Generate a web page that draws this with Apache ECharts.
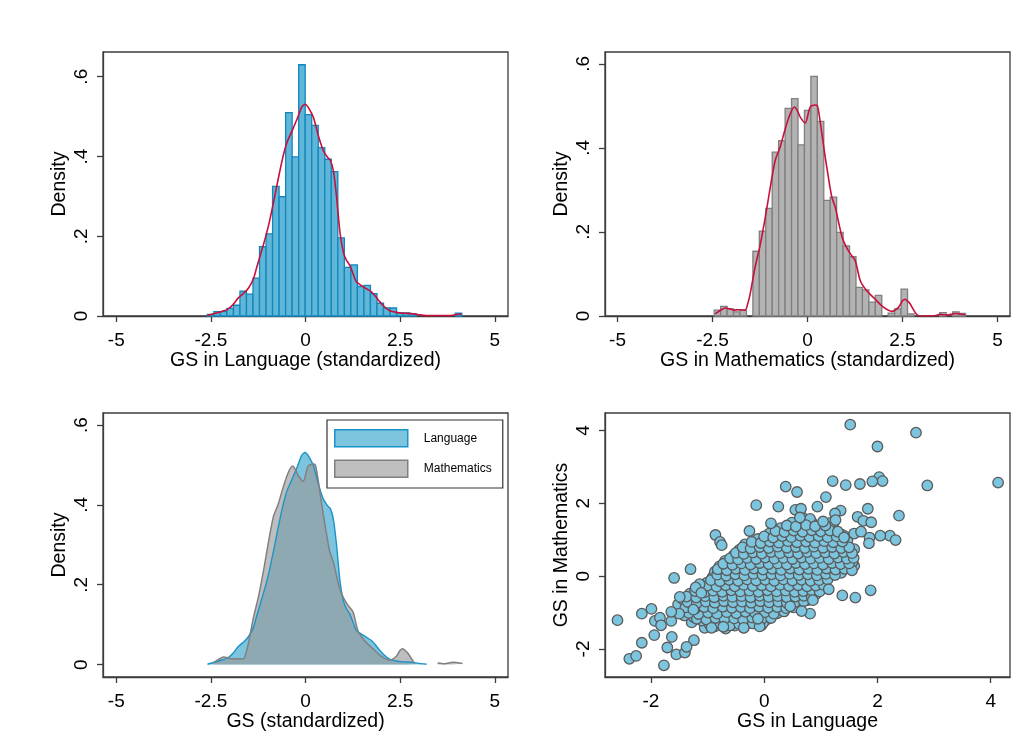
<!DOCTYPE html>
<html><head><meta charset="utf-8">
<script src="https://cdn.jsdelivr.net/npm/echarts@6/dist/echarts.min.js"></script>
<style>html,body{margin:0;padding:0;background:#fff}#c{width:1028px;height:751px}</style>
</head><body><div id="c"></div>
<script>
// ---------- data ----------
const langBinStart = -2.594, langBinWidth = 0.1724;
const langHist = [0.004,0.011,0.011,0.019,0.027,0.062,0.055,0.095,0.174,0.206,0.325,0.299,0.510,0.399,0.630,0.505,0.478,0.422,0.393,0.362,0.196,0.122,0.128,0.074,0.077,0.056,0.032,0.020,0.020,0.008,0.008,0.006,0,0,0,0,0,0,0.007];
const mathBinStart = -2.455, mathBinWidth = 0.1696;
const mathHist = [0.014,0.023,0.017,0.010,0.014,0,0.154,0.202,0.256,0.390,0.417,0.494,0.517,0.407,0.489,0.570,0.463,0.275,0.283,0.199,0.167,0.141,0.068,0.062,0.033,0.049,0,0.007,0.017,0.064,0.005,0,0,0,0,0.008,0,0.010,0.006];
const langKde = [[-2.59,0.001],[-2.4,0.006],[-2.2,0.012],[-2.07,0.016],[-1.92,0.028],[-1.77,0.046],[-1.62,0.058],[-1.5,0.071],[-1.38,0.092],[-1.28,0.125],[-1.17,0.16],[-1.06,0.196],[-0.95,0.238],[-0.845,0.285],[-0.75,0.33],[-0.67,0.367],[-0.58,0.405],[-0.49,0.435],[-0.36,0.463],[-0.23,0.492],[-0.1,0.524],[-0.01,0.531],[0.08,0.522],[0.21,0.498],[0.34,0.452],[0.47,0.415],[0.58,0.398],[0.66,0.39],[0.74,0.362],[0.82,0.3],[0.91,0.21],[1.0,0.16],[1.08,0.14],[1.17,0.127],[1.26,0.105],[1.35,0.085],[1.52,0.074],[1.63,0.067],[1.75,0.06],[1.86,0.048],[1.96,0.036],[2.1,0.022],[2.23,0.013],[2.4,0.009],[2.58,0.007],[2.8,0.006],[3.0,0.003],[3.2,0.001],[3.5,0.001],[3.8,0.001],[3.95,0.003],[4.05,0.005],[4.12,0.004]];
const mathKde = [[-2.43,0.005],[-2.3,0.013],[-2.165,0.019],[-2.05,0.017],[-1.945,0.014],[-1.8,0.015],[-1.64,0.014],[-1.57,0.03],[-1.51,0.052],[-1.38,0.116],[-1.25,0.167],[-1.11,0.235],[-0.98,0.306],[-0.85,0.37],[-0.72,0.402],[-0.587,0.445],[-0.455,0.481],[-0.34,0.497],[-0.26,0.487],[-0.19,0.473],[-0.06,0.459],[0.07,0.497],[0.2,0.502],[0.26,0.5],[0.33,0.465],[0.4,0.42],[0.466,0.378],[0.55,0.33],[0.64,0.283],[0.73,0.259],[0.9,0.191],[1.0,0.168],[1.12,0.149],[1.255,0.132],[1.39,0.084],[1.56,0.06],[1.78,0.04],[2.0,0.021],[2.22,0.011],[2.4,0.021],[2.5,0.036],[2.57,0.04],[2.65,0.034],[2.7,0.029],[2.88,0.003],[3.05,0],[3.32,0],[3.49,0.004],[3.67,0.002],[3.89,0.006],[4.15,0.003]];
const scatterOutliers = [[1.52,4.16],[2.68,3.94],[2.0,3.56],[2.03,2.72],[2.09,2.61],[1.91,2.6],[2.88,2.49],[4.13,2.57],[1.21,2.61],[1.44,2.5],[1.69,2.53],[0.38,2.46],[0.58,2.31],[1.09,2.17],[-0.14,1.95],[0.25,1.91],[0.94,1.91],[1.83,1.85],[1.35,1.8],[1.25,1.72],[2.38,1.66],[1.65,1.63],[1.75,1.52],[1.89,1.48],[0.55,1.82],[0.65,1.85],[0.63,1.61],[1.26,1.54],[1.04,1.5],[0.12,1.45],[2.22,1.11],[2.32,0.99],[2.05,1.11],[1.86,1.06],[1.85,0.9],[1.59,1.17],[1.71,1.22],[1.41,1.06],[-0.86,1.13],[-0.78,0.94],[-0.75,0.85],[-0.26,1.24],[-1.3,0.19],[-1.59,-0.05],[1.88,-0.39],[1.61,-0.59],[1.38,-0.53],[1.14,-0.36],[0.86,-0.66],[0.81,-1.03],[0.66,-0.96],[0.46,-0.83],[-2.59,-1.21],[-2.16,-1.03],[-1.99,-0.9],[-1.93,-1.23],[-1.84,-1.14],[-1.82,-1.35],[-2.16,-1.83],[-1.94,-1.62],[-1.63,-1.67],[-1.24,-1.76],[-1.71,-1.96],[-2.38,-2.27],[-2.26,-2.19],[-1.77,-2.45],[-1.55,-2.15],[-1.4,-2.1],[-1.37,-1.94],[-1.49,-0.57],[-1.5,-1.03],[-1.64,-1.23],[-1.64,-0.98],[-1.25,-0.92],[-1.14,-0.22],[-1.21,-0.31],[-1.11,-0.46],[-0.36,-1.42],[-0.08,-1.38],[-0.11,-1.17],[-0.72,-1.39],[-0.93,-1.42]];
const scatterCore = [
[-1.05,-1.42],[-0.87,-1.38],[-0.68,-1.44],[-0.52,-1.36],[-0.36,-1.41],[-0.05,-1.35],
[-1.28,-1.27],[-1.1,-1.22],[-0.95,-1.29],[-0.79,-1.24],[-0.61,-1.2],[-0.46,-1.28],[-0.29,-1.23],[-0.13,-1.26],[0.03,-1.21],
[-1.41,-1.08],[-1.24,-1.13],[-1.07,-1.06],[-0.91,-1.12],[-0.75,-1.07],[-0.57,-1.14],[-0.41,-1.09],[-0.24,-1.04],[-0.09,-1.11],[0.09,-1.06],[0.23,-1.02],
[-1.46,-0.93],[-1.31,-0.98],[-1.14,-0.92],[-0.99,-0.97],[-0.81,-0.91],[-0.66,-0.99],[-0.49,-0.94],[-0.34,-0.9],[-0.17,-0.97],[-0.01,-0.92],[0.15,-0.96],[0.31,-0.89],
[-1.52,-0.78],[-1.36,-0.83],[-1.19,-0.77],[-1.03,-0.82],[-0.87,-0.76],[-0.71,-0.84],[-0.54,-0.79],[-0.37,-0.75],[-0.21,-0.81],[-0.05,-0.77],[0.11,-0.83],[0.26,-0.78],[0.41,-0.82],[0.56,-0.76],
[-1.44,-0.63],[-1.27,-0.68],[-1.11,-0.62],[-0.96,-0.67],[-0.79,-0.61],[-0.63,-0.69],[-0.47,-0.64],[-0.31,-0.6],[-0.15,-0.66],[0.01,-0.62],[0.17,-0.68],[0.33,-0.63],[0.47,-0.67],[0.63,-0.61],[0.77,-0.66],
[-1.31,-0.48],[-1.14,-0.53],[-0.97,-0.47],[-0.83,-0.52],[-0.65,-0.46],[-0.51,-0.54],[-0.34,-0.49],[-0.19,-0.45],[-0.03,-0.51],[0.13,-0.47],[0.29,-0.53],[0.46,-0.48],[0.61,-0.52],[0.76,-0.46],[0.91,-0.5],
[-1.07,-0.33],[-0.93,-0.38],[-0.77,-0.32],[-0.59,-0.37],[-0.45,-0.31],[-0.27,-0.39],[-0.11,-0.34],[0.05,-0.3],[0.21,-0.36],[0.37,-0.32],[0.51,-0.38],[0.69,-0.33],[0.83,-0.37],[0.99,-0.31],
[-1.01,-0.18],[-0.86,-0.23],[-0.69,-0.17],[-0.55,-0.22],[-0.37,-0.16],[-0.23,-0.24],[-0.05,-0.19],[0.11,-0.15],[0.25,-0.21],[0.43,-0.17],[0.57,-0.23],[0.75,-0.18],[0.89,-0.22],[1.07,-0.16],
[-0.91,-0.03],[-0.74,-0.08],[-0.61,-0.02],[-0.43,-0.07],[-0.29,-0.01],[-0.11,-0.09],[0.05,-0.04],[0.19,0.0],[0.37,-0.06],[0.51,-0.02],[0.69,-0.08],[0.83,-0.03],[1.01,-0.07],[1.14,-0.01],
[-0.87,0.12],[-0.73,0.07],[-0.55,0.13],[-0.41,0.08],[-0.23,0.14],[-0.09,0.06],[0.09,0.11],[0.23,0.15],[0.41,0.09],[0.55,0.13],[0.73,0.07],[0.87,0.12],[1.05,0.08],[1.19,0.14],[1.36,0.09],
[-0.79,0.27],[-0.63,0.22],[-0.45,0.28],[-0.31,0.23],[-0.13,0.29],[0.01,0.21],[0.19,0.26],[0.33,0.3],[0.51,0.24],[0.65,0.28],[0.83,0.22],[0.97,0.27],[1.15,0.23],[1.29,0.29],[1.46,0.24],[1.59,0.28],
[-0.69,0.42],[-0.53,0.37],[-0.35,0.43],[-0.21,0.38],[-0.03,0.44],[0.11,0.36],[0.29,0.41],[0.43,0.45],[0.61,0.39],[0.75,0.43],[0.93,0.37],[1.07,0.42],[1.25,0.38],[1.39,0.44],[1.56,0.39],
[-0.54,0.57],[-0.41,0.52],[-0.23,0.58],[-0.09,0.53],[0.09,0.59],[0.23,0.51],[0.41,0.56],[0.55,0.6],[0.73,0.54],[0.87,0.58],[1.05,0.52],[1.19,0.57],[1.37,0.53],[1.51,0.59],
[-0.44,0.72],[-0.31,0.67],[-0.13,0.73],[0.01,0.68],[0.19,0.74],[0.33,0.66],[0.51,0.71],[0.65,0.75],[0.83,0.69],[0.97,0.73],[1.15,0.67],[1.29,0.72],[1.46,0.68],[1.59,0.74],
[-0.34,0.87],[-0.19,0.82],[-0.01,0.88],[0.13,0.83],[0.31,0.89],[0.45,0.81],[0.63,0.86],[0.77,0.9],[0.95,0.84],[1.09,0.88],[1.27,0.82],[1.41,0.87],
[-0.11,1.02],[0.03,0.97],[0.21,1.03],[0.35,0.98],[0.53,1.04],[0.67,0.96],[0.85,1.01],[0.99,1.05],[1.17,0.99],[1.31,1.03],[1.47,0.98],
[0.09,1.17],[0.27,1.12],[0.41,1.18],[0.59,1.13],[0.73,1.19],[0.91,1.11],[1.05,1.16],[1.23,1.2],[1.37,1.14],
[0.29,1.32],[0.47,1.27],[0.61,1.33],[0.79,1.28],[0.93,1.34],[1.11,1.26],[1.23,1.31],
[0.49,1.47],[0.69,1.42],[0.84,1.48],[1.03,1.43],[1.17,1.46],
[0.67,1.62],[0.81,1.57]
];
const scatterCore2 = [
[-0.96,-1.33],[-0.78,-1.31],[-0.6,-1.35],[-0.44,-1.32],[-0.2,-1.3],[-0.02,-1.29],
[-1.19,-1.17],[-1.02,-1.19],[-0.86,-1.15],[-0.7,-1.18],[-0.53,-1.16],[-0.37,-1.19],[-0.21,-1.14],[-0.04,-1.17],[0.12,-1.15],
[-1.33,-1.01],[-1.16,-1.04],[-0.99,-1.0],[-0.83,-1.03],[-0.66,-0.99],[-0.49,-1.02],[-0.33,-0.98],[-0.16,-1.01],[0.01,-0.99],[0.17,-1.03],[0.35,-0.97],
[-1.39,-0.86],[-1.22,-0.89],[-1.06,-0.85],[-0.9,-0.88],[-0.73,-0.84],[-0.57,-0.87],[-0.41,-0.85],[-0.25,-0.88],[-0.09,-0.84],[0.07,-0.87],[0.23,-0.85],[0.39,-0.88],[0.52,-0.86],
[-1.35,-0.71],[-1.19,-0.74],[-1.03,-0.7],[-0.87,-0.73],[-0.71,-0.69],[-0.55,-0.72],[-0.39,-0.7],[-0.23,-0.73],[-0.07,-0.69],[0.09,-0.72],[0.25,-0.7],[0.4,-0.73],[0.55,-0.71],[0.7,-0.69],
[-1.37,-0.56],[-1.2,-0.59],[-1.04,-0.55],[-0.88,-0.58],[-0.72,-0.54],[-0.56,-0.57],[-0.4,-0.55],[-0.24,-0.58],[-0.08,-0.54],[0.08,-0.57],[0.24,-0.55],[0.4,-0.58],[0.55,-0.56],[0.7,-0.54],[0.84,-0.57],
[-1.22,-0.41],[-1.05,-0.44],[-0.9,-0.4],[-0.74,-0.43],[-0.58,-0.39],[-0.42,-0.42],[-0.26,-0.4],[-0.1,-0.43],[0.06,-0.39],[0.22,-0.42],[0.38,-0.4],[0.54,-0.43],[0.69,-0.41],[0.84,-0.39],[0.98,-0.42],
[-1.0,-0.26],[-0.84,-0.29],[-0.68,-0.25],[-0.52,-0.28],[-0.36,-0.24],[-0.2,-0.27],[-0.04,-0.25],[0.12,-0.28],[0.28,-0.24],[0.44,-0.27],[0.6,-0.25],[0.76,-0.28],[0.91,-0.26],[1.05,-0.24],
[-0.94,-0.11],[-0.78,-0.14],[-0.62,-0.1],[-0.46,-0.13],[-0.3,-0.09],[-0.14,-0.12],[0.02,-0.1],[0.18,-0.13],[0.34,-0.09],[0.5,-0.12],[0.66,-0.1],[0.82,-0.13],[0.97,-0.11],[1.12,-0.09],
[-0.83,0.04],[-0.67,0.01],[-0.51,0.05],[-0.35,0.02],[-0.19,0.06],[-0.03,0.03],[0.13,0.05],[0.29,0.02],[0.45,0.06],[0.61,0.03],[0.77,0.05],[0.93,0.02],[1.09,0.06],[1.25,0.03],
[-0.82,0.19],[-0.66,0.16],[-0.5,0.2],[-0.34,0.17],[-0.18,0.21],[-0.02,0.18],[0.14,0.2],[0.3,0.17],[0.46,0.21],[0.62,0.18],[0.78,0.2],[0.94,0.17],[1.1,0.21],[1.26,0.18],[1.42,0.2],[1.55,0.16],
[-0.72,0.34],[-0.56,0.31],[-0.4,0.35],[-0.24,0.32],[-0.08,0.36],[0.08,0.33],[0.24,0.35],[0.4,0.32],[0.56,0.36],[0.72,0.33],[0.88,0.35],[1.04,0.32],[1.2,0.36],[1.35,0.33],[1.5,0.35],
[-0.6,0.49],[-0.46,0.46],[-0.3,0.5],[-0.14,0.47],[0.02,0.51],[0.18,0.48],[0.34,0.5],[0.5,0.47],[0.66,0.51],[0.82,0.48],[0.98,0.5],[1.14,0.47],[1.3,0.51],[1.46,0.48],[1.58,0.5],
[-0.5,0.64],[-0.36,0.61],[-0.2,0.65],[-0.04,0.62],[0.12,0.66],[0.28,0.63],[0.44,0.65],[0.6,0.62],[0.76,0.66],[0.92,0.63],[1.08,0.65],[1.24,0.62],[1.4,0.66],[1.55,0.63],
[-0.38,0.79],[-0.24,0.76],[-0.08,0.8],[0.08,0.77],[0.24,0.81],[0.4,0.78],[0.56,0.8],[0.72,0.77],[0.88,0.81],[1.04,0.78],[1.2,0.8],[1.36,0.77],[1.5,0.79],
[-0.22,0.94],[-0.06,0.91],[0.1,0.95],[0.26,0.92],[0.42,0.96],[0.58,0.93],[0.74,0.95],[0.9,0.92],[1.06,0.96],[1.22,0.93],[1.38,0.95],
[0.0,1.09],[0.16,1.06],[0.32,1.1],[0.48,1.07],[0.64,1.11],[0.8,1.08],[0.96,1.1],[1.12,1.07],[1.28,1.09],[1.42,1.1],
[0.2,1.24],[0.36,1.21],[0.52,1.25],[0.68,1.22],[0.84,1.26],[1.0,1.23],[1.16,1.25],[1.3,1.22],
[0.4,1.39],[0.56,1.36],[0.74,1.4],[0.9,1.37],[1.08,1.39]
];
const histTicks = [-5, -2.5, 0, 2.5, 5];
const densTicks = [0, 0.2, 0.4, 0.6];
const scatXTicks = [-2, 0, 2, 4];
const scatYTicks = [-2, 0, 2, 4];

// ---------- helpers ----------
const FONT = "'Liberation Sans', Arial, sans-serif";
const AX = '#3c3c3c';
function histData(start, width, heights) {
  const out = [];
  heights.forEach((h, i) => { if (h > 0) out.push([start + i * width, start + (i + 1) * width, h]); });
  return out;
}
function barRenderer(fill, stroke) {
  return function (params, api) {
    const p0 = api.coord([api.value(0), 0]);
    const p1 = api.coord([api.value(1), api.value(2)]);
    return { type: 'rect', shape: { x: p0[0], y: p1[1], width: p1[0] - p0[0], height: p0[1] - p1[1] },
      style: { fill: fill, stroke: stroke, lineWidth: 1.3 } };
  };
}
const densFmt = v => v === 0 ? '0' : '.' + Math.round(v * 10);
function xAxisCfg(grid, min, max, ticks, name) {
  return { type: 'value', gridIndex: grid, min: min, max: max, name: name, nameLocation: 'middle', nameGap: 35,
    nameTextStyle: { fontFamily: FONT, fontSize: 19.5, color: '#000' },
    axisLine: { show: true, onZero: false, lineStyle: { color: AX, width: 1.3 } },
    axisTick: { show: true, length: 6, customValues: ticks, lineStyle: { color: AX, width: 1.3 } },
    axisLabel: { customValues: ticks, margin: 15, fontFamily: FONT, fontSize: 19, color: '#000' },
    splitLine: { show: false } };
}
function yAxisCfg(grid, min, max, ticks, name, fmt) {
  return { type: 'value', gridIndex: grid, min: min, max: max, name: name, nameLocation: 'middle', nameGap: 33,
    nameTextStyle: { fontFamily: FONT, fontSize: 19.5, color: '#000' },
    axisLine: { show: true, onZero: false, lineStyle: { color: AX, width: 1.3 } },
    axisTick: { show: true, length: 6, customValues: ticks, lineStyle: { color: AX, width: 1.3 } },
    axisLabel: { customValues: ticks, rotate: 90, margin: 12, fontFamily: FONT, fontSize: 19, color: '#000', formatter: fmt },
    splitLine: { show: false } };
}
const gridBase = { show: true, borderColor: AX, borderWidth: 1.3, backgroundColor: 'transparent', containLabel: false };

const chart = echarts.init(document.getElementById('c'), null, { renderer: 'canvas' });
chart.setOption({
  backgroundColor: '#fff',
  animation: false,
  grid: [
    Object.assign({ left: 103, top: 52, width: 405, height: 264 }, gridBase),
    Object.assign({ left: 605, top: 52, width: 405, height: 264 }, gridBase),
    Object.assign({ left: 103, top: 413, width: 405, height: 264 }, gridBase),
    Object.assign({ left: 605, top: 413, width: 405, height: 264 }, gridBase)
  ],
  xAxis: [
    xAxisCfg(0, -5.35, 5.35, histTicks, 'GS in Language (standardized)'),
    xAxisCfg(1, -5.33, 5.33, histTicks, 'GS in Mathematics (standardized)'),
    xAxisCfg(2, -5.35, 5.35, histTicks, 'GS (standardized)'),
    xAxisCfg(3, -2.81, 4.34, scatXTicks, 'GS in Language')
  ],
  yAxis: [
    yAxisCfg(0, 0, 0.662, densTicks, 'Density', densFmt),
    yAxisCfg(1, 0, 0.628, densTicks, 'Density', densFmt),
    yAxisCfg(2, -0.031, 0.630, densTicks, 'Density', densFmt),
    yAxisCfg(3, -2.77, 4.48, scatYTicks, 'GS in Mathematics', v => String(v))
  ],
  legend: {
    orient: 'vertical', left: 327, top: 420, padding: [9, 11, 10, 7],
    itemWidth: 73, itemHeight: 17, itemGap: 12,
    borderColor: '#333', borderWidth: 1.2, backgroundColor: '#fff',
    textStyle: { fontFamily: FONT, fontSize: 12, color: '#000', padding: [0, 0, 0, 11] },
    selectedMode: false,
    data: [
      { name: 'Language', icon: 'rect', itemStyle: { color: '#7dc4df', borderColor: '#1a94c8', borderWidth: 1.5 } },
      { name: 'Mathematics', icon: 'rect', itemStyle: { color: '#bfbfbf', borderColor: '#808080', borderWidth: 1.5 } }
    ]
  },
  series: [
    { type: 'custom', name: 'langHist', xAxisIndex: 0, yAxisIndex: 0, renderItem: barRenderer('#5fb6d8', '#1188bd'),
      encode: { x: [0, 1], y: 2 }, data: histData(langBinStart, langBinWidth, langHist) },
    { type: 'line', name: 'langKdeLine', xAxisIndex: 0, yAxisIndex: 0, data: langKde, showSymbol: false, symbol: 'none',
      smooth: 0.25, lineStyle: { color: '#c8103c', width: 1.6 } },
    { type: 'custom', name: 'mathHist', xAxisIndex: 1, yAxisIndex: 1, renderItem: barRenderer('#b3b3b3', '#7f7f7f'),
      encode: { x: [0, 1], y: 2 }, data: histData(mathBinStart, mathBinWidth, mathHist) },
    { type: 'line', name: 'mathKdeLine', xAxisIndex: 1, yAxisIndex: 1, data: mathKde, showSymbol: false, symbol: 'none',
      smooth: 0.25, lineStyle: { color: '#c8103c', width: 1.6 } },
    { type: 'line', name: 'Language', xAxisIndex: 2, yAxisIndex: 2, data: langKde.filter(p => p[0] <= 3.2),
      showSymbol: false, symbol: 'none', smooth: 0.25,
      lineStyle: { color: '#1a94c8', width: 1.4 }, itemStyle: { color: '#7dc4df' },
      areaStyle: { color: '#7dc4df', opacity: 1, origin: 0 } },
    { type: 'line', name: 'Mathematics', xAxisIndex: 2, yAxisIndex: 2, data: mathKde.map(p => p[1] === 0 ? [p[0], '-'] : p),
      showSymbol: false, symbol: 'none', smooth: 0.25, connectNulls: false,
      lineStyle: { color: '#808080', width: 1.5 }, itemStyle: { color: '#bfbfbf' },
      areaStyle: { color: 'rgba(153,153,153,0.64)', opacity: 1, origin: 0 } },
    { type: 'scatter', name: 'scatter', xAxisIndex: 3, yAxisIndex: 3, data: scatterCore.concat(scatterCore2, scatterOutliers),
      symbol: 'circle', symbolSize: 10.5,
      itemStyle: { color: '#7cc5de', borderColor: '#5a5a5a', borderWidth: 1.3, opacity: 1 } }
  ]
});
</script></body></html>
